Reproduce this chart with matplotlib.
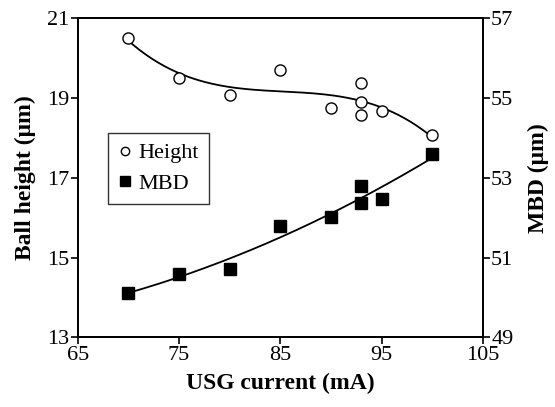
import numpy as np
import matplotlib.pyplot as plt

plt.rcParams['font.family'] = ['Liberation Serif', 'DejaVu Serif']

# ball height data (left axis)
height_x = [70, 75, 80, 85, 90, 93, 93, 93, 95, 100]
height_y = [20.5, 19.5, 19.07, 19.69, 18.74, 19.36, 18.9, 18.57, 18.67, 18.07]

# MBD data (right axis)
mbd_x = [70, 75, 80, 85, 90, 93, 93, 95, 100]
mbd_y = [50.1, 50.6, 50.72, 51.8, 52.02, 52.79, 52.36, 52.47, 53.59]

x_ticks = [65, 75, 85, 95, 105]
left_ticks = [13, 15, 17, 19, 21]
right_ticks = [49, 51, 53, 55, 57]

fig = plt.figure(figsize=(5.55, 4.07), dpi=100)
ax = fig.add_axes([0.14, 0.171, 0.730, 0.785])
ax2 = ax.twinx()

# trend lines fitted to the points
xs = np.linspace(min(height_x), max(height_x), 200)
h_fit = np.polyval(np.polyfit(height_x, height_y, 3), xs)
m_fit = np.polyval(np.polyfit(mbd_x, mbd_y, 2), xs)

ax.plot(xs, h_fit, color='black', lw=1.3, zorder=2)
h_pts, = ax.plot(height_x, height_y, 'o', mfc='white', mec='black', mew=1.0,
                 ms=8, zorder=3, label='Height')
ax2.plot(xs, m_fit, color='black', lw=1.3, zorder=2)
m_pts, = ax2.plot(mbd_x, mbd_y, 's', color='black', ms=9, zorder=3, label='MBD')

ax.set_xlim(65, 105)
ax.set_ylim(13, 21)
ax2.set_ylim(49, 57)
ax.set_xticks(x_ticks)
ax.set_yticks(left_ticks)
ax2.set_yticks(right_ticks)

for a in (ax, ax2):
    a.tick_params(labelsize=16, direction='out', length=5, width=1.2, pad=1)
    for s in a.spines.values():
        s.set_linewidth(1.3)

ax.set_xlabel('USG current (mA)', fontsize=17, fontweight='bold', labelpad=6)
ax.set_ylabel('Ball height (\u03bcm)', fontsize=17, fontweight='bold', labelpad=8)
ax2.set_ylabel('MBD (\u03bcm)', fontsize=17, fontweight='bold', labelpad=10)

leg = ax.legend(handles=[h_pts, m_pts], loc='upper left',
                bbox_to_anchor=(0.075, 0.64), borderaxespad=0, fontsize=16,
                frameon=True, fancybox=False, edgecolor='black',
                handlelength=0.6, handletextpad=0.3, markerscale=0.75,
                borderpad=0.45, labelspacing=0.45)
leg.get_frame().set_linewidth(1.0)

fig.savefig('out.png', dpi=100)
